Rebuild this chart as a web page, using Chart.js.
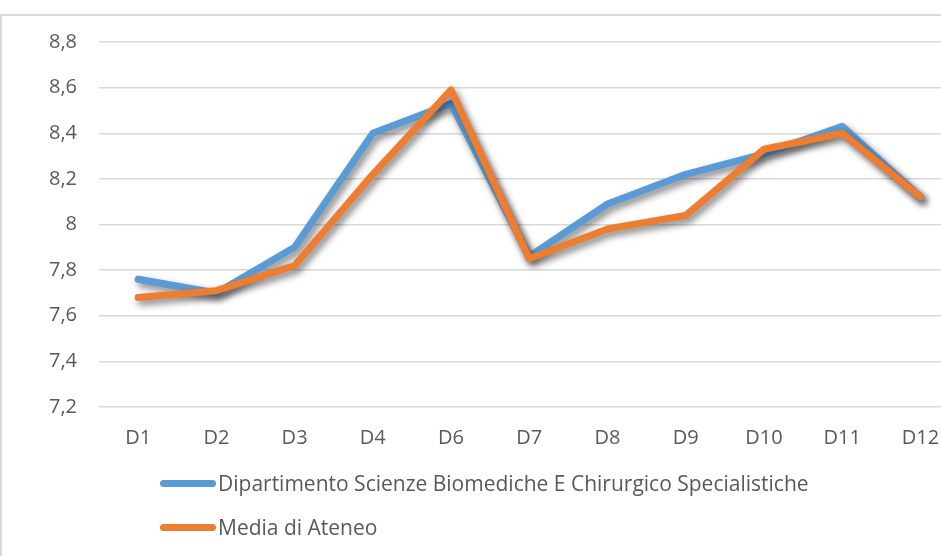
<!DOCTYPE html>
<html>
<head>
<meta charset="utf-8">
<script src="https://cdn.jsdelivr.net/npm/chart.js@4.4.0/dist/chart.umd.min.js"></script>
<style>
  html, body { margin: 0; padding: 0; background: #fff; overflow: hidden; }
  #wrap { position: relative; width: 941px; height: 556px; overflow: hidden; }
  #frame { position: absolute; left: 0; top: 14px; width: 960px; height: 600px;
           border-top: 2px solid #d9d9d9; border-left: 2px solid #d9d9d9; box-sizing: border-box; }
  canvas { position: absolute; left: 0; top: 0; }
  .leg { position: absolute; left: 160px; font-family: "Open Sans", sans-serif; font-size: 21px;
         color: #595959; display: flex; align-items: center; white-space: nowrap; }
  .leg span.sw { display: inline-block; width: 56px; height: 7px; border-radius: 4px; margin-right: 2px; }
</style>
</head>
<body>
<div id="wrap">
  <div id="frame"></div>
  <canvas id="c" width="941" height="556"></canvas>
  <div id="legend"></div>
</div>
<script>
const categories = ["D1","D2","D3","D4","D6","D7","D8","D9","D10","D11","D12"];
const seriesNames = ["Dipartimento Scienze Biomediche E Chirurgico Specialistiche", "Media di Ateneo"];
const deptValues = [7.76, 7.70, 7.90, 8.40, 8.53, 7.86, 8.09, 8.22, 8.31, 8.43, 8.12];
const mediaValues = [7.68, 7.71, 7.82, 8.22, 8.59, 7.85, 7.98, 8.04, 8.33, 8.40, 8.12];
const yTicks = [7.2, 7.4, 7.6, 7.8, 8.0, 8.2, 8.4, 8.6, 8.8];
const colors = ["#5B9BD5", "#ED7D31"];

function fmt(v) {
  let s = (Math.round(v * 10) / 10).toFixed(1);
  if (s.endsWith(".0")) s = s.slice(0, -2);
  return s.replace(".", ",");
}

const shadowPlugin = {
  id: 'shadow',
  beforeDatasetDraw(chart) {
    const ctx = chart.ctx;
    ctx.save();
    ctx.shadowColor = 'rgba(0,0,0,0.5)';
    ctx.shadowBlur = 7;
    ctx.shadowOffsetX = 3;
    ctx.shadowOffsetY = 4;
  },
  afterDatasetDraw(chart) {
    chart.ctx.restore();
  }
};

const toPts = arr => arr.map((v, i) => ({ x: i, y: v }));
const tickFont = { family: 'Open Sans', size: 20 };

new Chart(document.getElementById('c'), {
  type: 'line',
  data: {
    datasets: [
      { label: seriesNames[0], data: toPts(deptValues), borderColor: colors[0], backgroundColor: colors[0],
        borderWidth: 7, pointRadius: 0, tension: 0, order: 1, borderCapStyle: 'round', borderJoinStyle: 'round' },
      { label: seriesNames[1], data: toPts(mediaValues), borderColor: colors[1], backgroundColor: colors[1],
        borderWidth: 7, pointRadius: 0, tension: 0, order: 0, borderCapStyle: 'round', borderJoinStyle: 'round' }
    ]
  },
  options: {
    responsive: false,
    animation: false,
    layout: { padding: { top: 42, right: 0, bottom: 99, left: 0 } },
    plugins: { legend: { display: false }, tooltip: { enabled: false } },
    scales: {
      x: {
        type: 'linear',
        min: -0.5, max: 10.262,
        afterBuildTicks(scale) { scale.ticks = categories.map((c, i) => ({ value: i })); },
        afterFit(scale) { scale.height = 50; scale.paddingLeft = 0; scale.paddingRight = 0; },
        grid: { display: false, drawTicks: false },
        border: { display: false },
        ticks: {
          callback: v => categories[v],
          color: '#595959', font: tickFont, padding: 19, maxRotation: 0, autoSkip: false
        }
      },
      y: {
        min: 7.2, max: 8.8,
        afterBuildTicks(scale) { scale.ticks = yTicks.map(v => ({ value: v })); },
        afterFit(scale) { scale.width = 99; },
        grid: { color: '#d9d9d9', lineWidth: 1.5, drawTicks: false },
        border: { display: false },
        ticks: {
          callback: v => fmt(v),
          color: '#595959', font: tickFont, padding: 22
        }
      }
    }
  },
  plugins: [shadowPlugin]
});

const legend = document.getElementById('legend');
const legTops = [483, 527];
seriesNames.forEach((name, i) => {
  const d = document.createElement('div');
  d.className = 'leg';
  d.style.top = (legTops[i] - 14) + 'px';
  d.style.height = '28px';
  const sw = document.createElement('span');
  sw.className = 'sw';
  sw.style.background = colors[i];
  d.appendChild(sw);
  const t = document.createElement('span');
  t.textContent = name;
  d.appendChild(t);
  legend.appendChild(d);
});
</script>
</body>
</html>
